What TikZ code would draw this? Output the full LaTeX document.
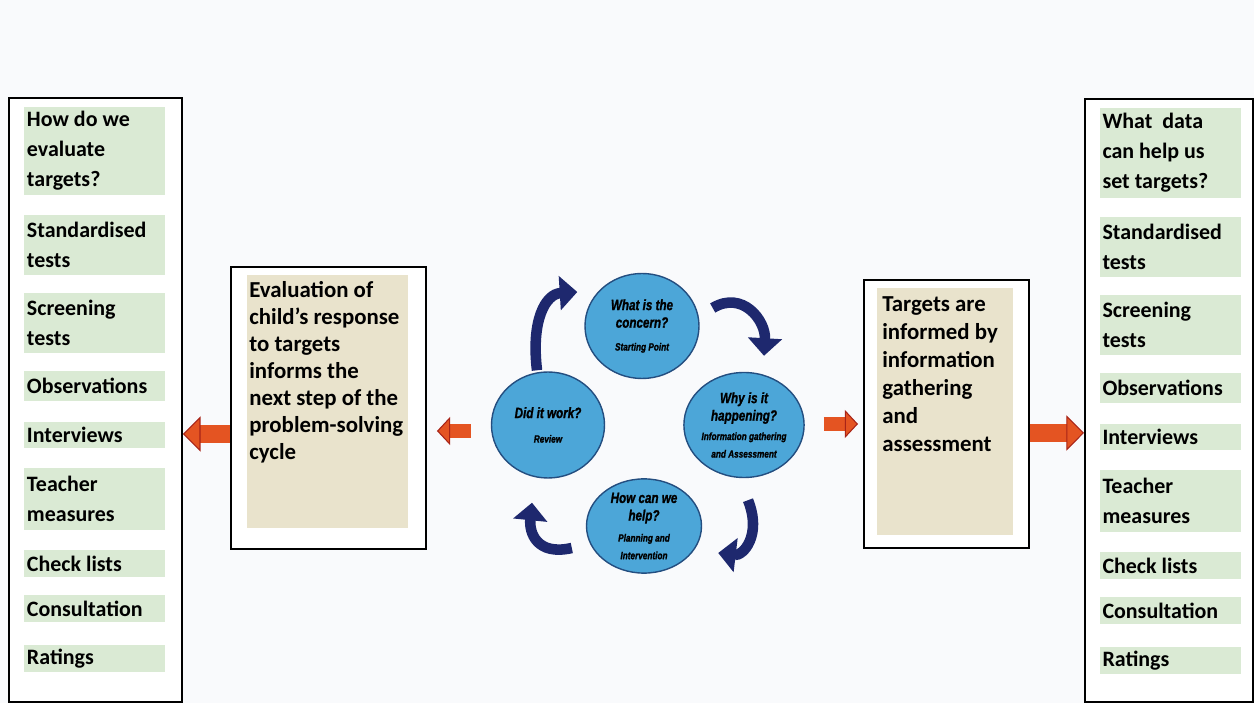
\documentclass[tikz,border=0pt]{standalone}
\usepackage{fontspec}
\setmainfont{Carlito}
\newfontfamily\circfont{Liberation Sans}[FakeStretch=0.78, BoldItalicFont={Liberation Sans Bold Italic}, BoldItalicFeatures={FakeStretch=0.78, FakeBold=1.2}]
\usetikzlibrary{arrows.meta,shapes.geometric,positioning,calc}

\definecolor{cellgreen}{RGB}{218,234,212}
\definecolor{paper}{RGB}{233,227,204}
\definecolor{cycblue}{RGB}{76,166,216}
\definecolor{cycedge}{RGB}{36,78,128}
\definecolor{navyarr}{RGB}{30,40,110}
\definecolor{arrred}{RGB}{228,84,34}
\definecolor{arredge}{RGB}{168,36,24}
\definecolor{bg}{RGB}{249,250,252}

\newcommand{\stsub}[1]{{\fontsize{6}{7}\selectfont #1}}

\begin{document}
\begin{tikzpicture}[x=0.2mm, y=-0.2mm,
    col/.style={draw, line width=1.1pt, fill=white, anchor=north west, inner sep=0pt},
    cell/.style={fill=cellgreen, text width=27mm, inner xsep=0.6mm, inner ysep=0pt, align=flush left, font=\fontsize{12.5}{17}\selectfont\bfseries},
    frame/.style={draw, line width=1.1pt, fill=white, anchor=north west, inner sep=0pt},
    note/.style={fill=paper, anchor=north west, inner sep=0pt},
    notetxt/.style={anchor=north west, align=flush left, inner sep=0pt, font=\fontsize{13}{15.4}\selectfont\bfseries},
    stage/.style={ellipse, draw=cycedge, line width=0.8pt, fill=cycblue, inner sep=0pt, align=center, font=\circfont\bfseries\itshape\fontsize{8.5}{10}\selectfont},
    cyc/.style={navyarr, line width=6pt, -{Triangle[length=10pt, width=19pt]}},
    bigarr/.style={arrred, line width=10.5pt, -{Triangle[length=10pt, width=20pt, fill=arrred, color=arredge, line width=0.6pt]}},
    smallarr/.style={arrred, line width=8pt, -{Triangle[length=7.5pt, width=16pt, fill=arrred, color=arredge, line width=0.6pt]}}
]
\fill[bg] (0,0) rectangle (1254,703);
\useasboundingbox (0,0) rectangle (1254,703);

% outer columns
\node[col, minimum width=34.6mm, minimum height=120.8mm] (evalcol) at (8,97) {};
\node[col, minimum width=33.6mm, minimum height=120.6mm] (datacol) at (1084,98) {};

\node[cell, minimum width=28.2mm, minimum height=17.6mm] (Lhead) at (94.5,151) {How do we\\evaluate\\targets?};
\node[cell, minimum width=28mm, minimum height=18mm] (Rhead) at (1170,153) {What~~data\\can help us\\set targets?};

\foreach \ctext/\cy/\ch [count=\i] in {{Standardised\\tests}/245/60, {Screening\\tests}/323/60, {Observations}/386/30, {Interviews}/435/26, {Teacher\\measures}/499/62, {Check lists}/564/27, {Consultation}/609/27, {Ratings}/659/27} {
  \node[cell, minimum width=28.2mm, minimum height=\ch*0.2mm] (L\i) at (94.5,\cy) {\ctext};
  \node[cell, minimum width=28mm, minimum height=\ch*0.2mm] (R\i) at (1170,\cy+2) {\ctext};
}

% middle boxes
\node[frame, minimum width=39mm, minimum height=56.4mm] (evalbox) at (230,266) {};
\node[note, minimum width=32.2mm, minimum height=50.6mm] (evalbg) at (247,275) {};
\node[notetxt] (evaltxt) at ([shift={(2,6)}]evalbg.north west) {Evaluation of\\child’s response\\to targets\\informs the\\next step of the\\problem-solving\\cycle};

\node[frame, minimum width=33mm, minimum height=53.6mm] (targbox) at (863,279) {};
\node[note, minimum width=27.2mm, minimum height=49.4mm] (targbg) at (877,288) {};
\node[notetxt, font=\fontsize{13}{16}\selectfont\bfseries] (targtxt) at ([shift={(5,8)}]targbg.north west) {Targets are\\informed by\\information\\gathering\\and\\assessment};

% cycle
\node[stage, minimum width=22.8mm, minimum height=21mm] (what) at (642,326) {What is the\\concern?\\[3pt]\stsub{Starting Point}};
\node[stage, minimum width=22.6mm, minimum height=21.2mm] (did) at (548,425) {Did it work?\\[4pt]\stsub{Review}};
\node[stage, minimum width=21.6mm, minimum height=21mm] (why) at (744,425) {Why is it\\happening?\\[1pt]\stsub{Information gathering}\\\stsub{and Assessment}};
\node[stage, minimum width=23mm, minimum height=18.4mm] (help) at (644,526) {How can we\\help?\\[2pt]\stsub{Planning and}\\\stsub{Intervention}};

\draw[cyc] ([shift={(-11,-1)}]did.north) .. controls +(-6,-50) and +(-32,2) .. ([shift={(-7,-34)}]what.west);
\draw[cyc] ([shift={(13,-18)}]what.east) .. controls +(30,-18) and +(2,-35) .. ([shift={(20,-16)}]why.north);
\draw[cyc] ([shift={(4,22)}]why.south) .. controls +(14,35) and +(25,3) .. ([shift={(16,27)}]help.east);
\draw[cyc] ([shift={(-14,22)}]help.west) .. controls +(-35,8) and +(-3,30) .. ([shift={(-16,24)}]did.south);

% red arrows
\draw[bigarr] ($(evalbox.west)+(0,26)$) -- ($(evalbox.west -| evalcol.east)+(0,26)$);
\draw[smallarr] ($(did.west)+(-20,6)$) -- ($(evalbox.east |- did.west)+(10,6)$);
\draw[smallarr] ($(why.east)+(19,-1)$) -- ($(targbox.west |- why.east)+(-5,-1)$);
\draw[bigarr] ($(targbox.east)+(0,19)$) -- ($(targbox.east -| datacol.west)+(0,19)$);
\end{tikzpicture}
\end{document}
